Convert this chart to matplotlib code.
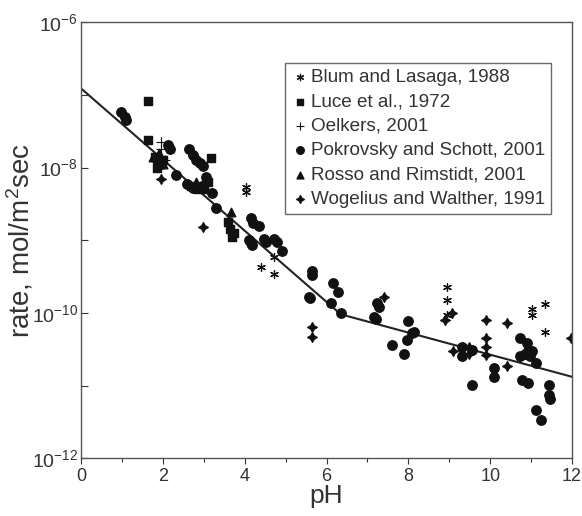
import numpy as np
import matplotlib
matplotlib.use("Agg")
import matplotlib.pyplot as plt
from matplotlib.ticker import FixedLocator

plt.rcParams["font.family"] = ["Liberation Sans", "DejaVu Sans"]
plt.rcParams["mathtext.fontset"] = "custom"
plt.rcParams["mathtext.rm"] = "Liberation Sans"
plt.rcParams["mathtext.it"] = "Liberation Sans:italic"
plt.rcParams["mathtext.bf"] = "Liberation Sans:bold"

# log10(rate) values, grouped by source
blum_ph = [4.03, 4.03, 4.72, 4.40, 4.72, 8.94, 8.94, 8.94, 11.01, 11.01, 11.34, 11.34]
blum_log = [-8.27, -8.33, -9.23, -9.37, -9.47, -9.65, -9.82, -10.03, -9.94, -10.03, -9.88, -10.27]

luce_ph = [1.64, 1.64, 1.80, 1.90, 2.00, 1.85, 3.18, 2.70, 2.85, 3.00, 3.10, 3.60, 3.65, 3.70, 3.75]
luce_log = [-7.08, -7.62, -7.85, -7.95, -7.90, -8.00, -7.87, -8.25, -8.30, -8.30, -8.20,
            -8.75, -8.85, -8.95, -8.90]

oelkers_ph = [1.96, 1.96, 1.96, 2.05]
oelkers_log = [-7.65, -7.75, -7.85, -7.90]

pokrovsky_ph = [0.99, 1.07, 1.10, 2.13, 2.17, 2.33, 2.65, 2.73, 2.82, 2.90, 2.98, 3.06, 3.20,
                3.30, 1.85, 1.95, 2.60, 2.75, 2.95, 4.16, 4.20, 4.36, 4.11, 4.48, 4.52, 4.72,
                4.80, 4.92, 4.16, 4.19, 5.65, 5.65, 5.57, 5.60, 6.16, 6.27, 6.10, 6.35,
                7.24, 7.28, 7.16, 7.20, 8.00, 7.97, 8.09, 8.13, 7.89, 7.60,
                9.31, 9.31, 9.55, 9.55, 10.08, 10.08, 10.73, 10.89, 10.73, 10.85, 10.93,
                10.97, 11.01, 11.13, 10.77, 10.93, 11.13, 11.25, 11.43, 11.43, 11.46]
pokrovsky_log = [-7.24, -7.30, -7.34, -7.69, -7.74, -8.10, -7.74, -7.83, -7.90, -7.94, -7.98,
                 -8.13, -8.35, -8.56, -7.90, -7.95, -8.22, -8.28, -8.26, -8.70, -8.77, -8.81,
                 -9.00, -8.98, -9.02, -8.98, -9.02, -9.15, -9.04, -9.07, -9.43, -9.48, -9.78,
                 -9.79, -9.59, -9.71, -9.87, -10.00, -9.87, -9.92, -10.05, -10.08, -10.11,
                 -10.37, -10.28, -10.26, -10.56, -10.44, -10.47, -10.60, -10.99, -10.51,
                 -10.76, -10.88, -10.35, -10.42, -10.60, -10.57, -10.53, -10.60, -10.53,
                 -10.69, -10.92, -10.97, -11.34, -11.47, -10.99, -11.13, -11.19]

rosso_ph = [1.75, 1.90, 2.00, 2.80, 3.00, 3.67]
rosso_log = [-7.85, -7.80, -7.95, -8.20, -8.22, -8.61]

wogelius_ph = [1.96, 2.98, 5.65, 5.65, 7.40, 8.90, 9.06, 9.08, 9.47, 9.47, 9.90, 9.90, 9.90,
               9.90, 10.40, 10.40, 11.98]
wogelius_log = [-8.16, -8.82, -10.20, -10.33, -9.78, -10.10, -10.00, -10.53, -10.47, -10.56,
                -10.10, -10.35, -10.47, -10.58, -10.14, -10.73, -10.35]

# fitted rate law (two segments)
fit_ph = [0.0, 6.35, 12.0]
fit_log = [-6.91, -10.02, -10.88]

fig = plt.figure(figsize=(5.82, 5.16), dpi=100)
ax = fig.add_axes([0.139, 0.112, 0.844, 0.845])

ax.plot(fit_ph, 10.0 ** np.array(fit_log), color="#222222", lw=1.5, zorder=1)

c = "#111111"
ax.scatter(blum_ph, 10.0 ** np.array(blum_log), marker=(6, 2, 0), s=32, color=c,
           linewidths=0.9, label="Blum and Lasaga, 1988", zorder=2)
ax.scatter(luce_ph, 10.0 ** np.array(luce_log), marker="s", s=32, color=c,
           label="Luce et al., 1972", zorder=2)
ax.scatter(oelkers_ph, 10.0 ** np.array(oelkers_log), marker="+", s=45, color=c,
           linewidths=0.8, label="Oelkers, 2001", zorder=2)
ax.scatter(pokrovsky_ph, 10.0 ** np.array(pokrovsky_log), marker="o", s=46, color=c,
           label="Pokrovsky and Schott, 2001", zorder=2)
ax.scatter(rosso_ph, 10.0 ** np.array(rosso_log), marker="^", s=38, color=c,
           label="Rosso and Rimstidt, 2001", zorder=2)
ax.scatter(wogelius_ph, 10.0 ** np.array(wogelius_log), marker=(4, 1, 0), s=48, color=c,
           label="Wogelius and Walther, 1991", zorder=2)

ax.set_yscale("log")
ax.set_xlim(0, 12)
ax.set_ylim(1e-12, 1e-6)

ax.xaxis.set_major_locator(FixedLocator([0, 2, 4, 6, 8, 10, 12]))
ax.xaxis.set_minor_locator(FixedLocator([1, 3, 5, 7, 9, 11]))
ax.tick_params(axis="x", which="both", direction="out", length=4, width=0.8,
               labelsize=13, colors="#333333", pad=3)
ax.tick_params(axis="x", which="minor", length=3)

ax.yaxis.set_major_locator(FixedLocator([1e-12, 1e-10, 1e-8, 1e-6]))
ax.yaxis.set_minor_locator(FixedLocator([1e-11, 1e-9, 1e-7]))
ax.yaxis.set_minor_formatter(plt.NullFormatter())
ax.set_yticklabels([r"$10^{-12}$", r"$10^{-10}$", r"$10^{-8}$", r"$10^{-6}$"])
ax.tick_params(axis="y", which="both", direction="in", length=5, width=0.8,
               labelsize=14, colors="#333333", pad=2)
ax.tick_params(axis="y", which="minor", length=5)

for s in ax.spines.values():
    s.set_color("#555555")
    s.set_linewidth(1.0)

ax.set_xlabel("pH", fontsize=19, color="#333333", labelpad=-1)
ax.set_ylabel(r"rate, mol/m$^2$sec", fontsize=20, color="#333333", labelpad=-3)

leg = ax.legend(loc="upper right", bbox_to_anchor=(0.957, 0.906), fontsize=13.6,
                frameon=True, fancybox=False, handletextpad=0.1, borderpad=0.3,
                labelspacing=0.38, handlelength=1.0, markerscale=0.8,
                borderaxespad=0)
leg.get_frame().set_edgecolor("#444444")
leg.get_frame().set_linewidth(1.0)
for t in leg.get_texts():
    t.set_color("#333333")

fig.savefig("out.png", dpi=100)
